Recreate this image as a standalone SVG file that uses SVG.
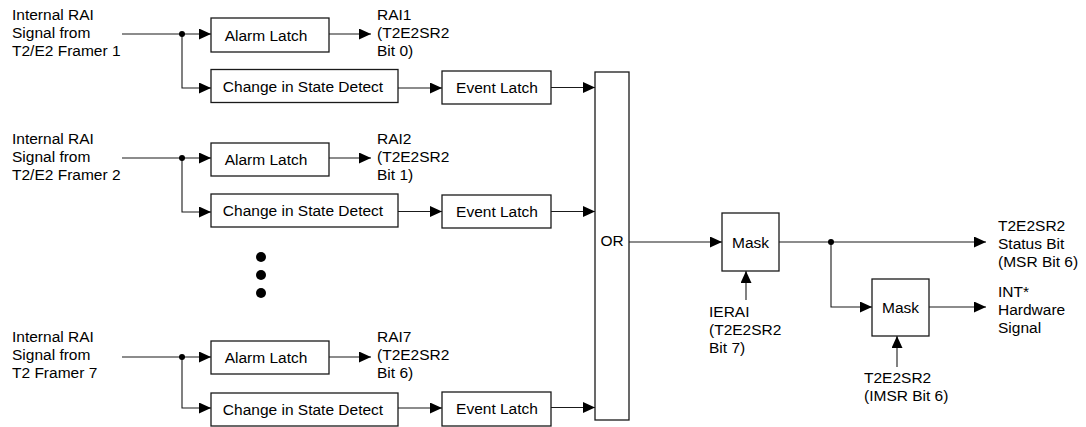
<svg xmlns="http://www.w3.org/2000/svg" width="1086" height="427" viewBox="0 0 1086 427">
<defs>
<marker id="arr" markerUnits="userSpaceOnUse" markerWidth="12" markerHeight="11" refX="12" refY="5.5" orient="auto">
<path d="M0,0 L12,5.5 L0,11 z" fill="#000"/>
</marker>
</defs>
<style>
text{font-family:"Liberation Sans",Arial,sans-serif;font-size:15.5px;fill:#000}
.box{fill:#fff;stroke:#1a1a1a;stroke-width:1.3}
.c{text-anchor:middle}
.ln{fill:none;stroke:#1a1a1a;stroke-width:1.1}
.a{marker-end:url(#arr)}
.dot{fill:#000}
</style>
<rect width="1086" height="427" fill="#fff"/>

<g id="connectors">
<!-- group 1 -->
<path class="ln a" d="M122,34 H211"/>
<path class="ln a" d="M182,34 V88 H211"/>
<path class="ln a" d="M329,34 H371"/>
<path class="ln a" d="M398,88 H442"/>
<path class="ln a" d="M551,87.5 H595"/>
<circle class="dot" cx="182" cy="34" r="3"/>
<!-- group 2 -->
<path class="ln a" d="M122,158 H211"/>
<path class="ln a" d="M182,158 V212 H211"/>
<path class="ln a" d="M329,158 H371"/>
<path class="ln a" d="M398,211.5 H442"/>
<path class="ln a" d="M551,211.5 H595"/>
<circle class="dot" cx="182" cy="158" r="3"/>
<!-- group 3 -->
<path class="ln a" d="M122,357 H211"/>
<path class="ln a" d="M182,357 V408 H211"/>
<path class="ln a" d="M329,357 H371"/>
<path class="ln a" d="M398,408 H442"/>
<path class="ln a" d="M551,407.5 H595"/>
<circle class="dot" cx="182" cy="357" r="3"/>
<!-- right side -->
<path class="ln a" d="M629,242 H722"/>
<path class="ln a" d="M779,242 H986"/>
<path class="ln a" d="M831,242 V307 H872"/>
<path class="ln a" d="M929,307 H986"/>
<path class="ln a" d="M746,300 V271"/>
<path class="ln a" d="M897,367 V336"/>
<circle class="dot" cx="831" cy="242" r="3"/>
</g>

<g id="ellipsis">
<circle class="dot" cx="261" cy="257" r="5"/>
<circle class="dot" cx="261" cy="275" r="5"/>
<circle class="dot" cx="261" cy="293" r="5"/>
</g>

<g id="input1"><text x="12" y="20">Internal RAI</text><text x="12" y="38">Signal from</text><text x="12" y="56">T2/E2 Framer 1</text></g>
<g id="input2"><text x="12" y="144">Internal RAI</text><text x="12" y="162">Signal from</text><text x="12" y="180">T2/E2 Framer 2</text></g>
<g id="input7"><text x="12" y="342">Internal RAI</text><text x="12" y="360">Signal from</text><text x="12" y="378">T2 Framer 7</text></g>

<g id="alarm1"><rect class="box" x="211" y="18" width="118" height="34"/><text class="c" x="266" y="40.5">Alarm Latch</text></g>
<g id="alarm2"><rect class="box" x="211" y="143" width="118" height="33"/><text class="c" x="266" y="165">Alarm Latch</text></g>
<g id="alarm7"><rect class="box" x="211" y="341" width="118" height="33"/><text class="c" x="266" y="363">Alarm Latch</text></g>

<g id="rai1"><text x="377" y="20">RAI1</text><text x="377" y="38">(T2E2SR2</text><text x="377" y="56">Bit 0)</text></g>
<g id="rai2"><text x="377" y="144">RAI2</text><text x="377" y="162">(T2E2SR2</text><text x="377" y="180">Bit 1)</text></g>
<g id="rai7"><text x="377" y="342">RAI7</text><text x="377" y="360">(T2E2SR2</text><text x="377" y="378">Bit 6)</text></g>

<g id="csd1"><rect class="box" x="211" y="69.5" width="187" height="33"/><text class="c" x="303" y="91.5">Change in State Detect</text></g>
<g id="csd2"><rect class="box" x="211" y="194" width="187" height="33"/><text class="c" x="303" y="216">Change in State Detect</text></g>
<g id="csd7"><rect class="box" x="211" y="393" width="187" height="33"/><text class="c" x="303" y="415">Change in State Detect</text></g>

<g id="event1"><rect class="box" x="442" y="71" width="109" height="33"/><text class="c" x="497" y="93">Event Latch</text></g>
<g id="event2"><rect class="box" x="442" y="195" width="109" height="33"/><text class="c" x="497" y="217">Event Latch</text></g>
<g id="event7"><rect class="box" x="442" y="392" width="109" height="34"/><text class="c" x="497" y="414">Event Latch</text></g>

<g id="or"><rect class="box" x="595" y="72" width="34" height="348"/><text class="c" x="612" y="245.5">OR</text></g>

<g id="mask1"><rect class="box" x="722" y="213" width="57" height="58"/><text class="c" x="750.5" y="248">Mask</text></g>
<g id="mask2"><rect class="box" x="872" y="279" width="57" height="57"/><text class="c" x="900.5" y="313">Mask</text></g>

<g id="ierai"><text x="709" y="317">IERAI</text><text x="709" y="335">(T2E2SR2</text><text x="709" y="353">Bit 7)</text></g>
<g id="imsr"><text x="864" y="383">T2E2SR2</text><text x="864" y="401">(IMSR Bit 6)</text></g>
<g id="status"><text x="998" y="231">T2E2SR2</text><text x="998" y="249">Status Bit</text><text x="998" y="267">(MSR Bit 6)</text></g>
<g id="int"><text x="998" y="297">INT*</text><text x="998" y="315">Hardware</text><text x="998" y="333">Signal</text></g>
</svg>
